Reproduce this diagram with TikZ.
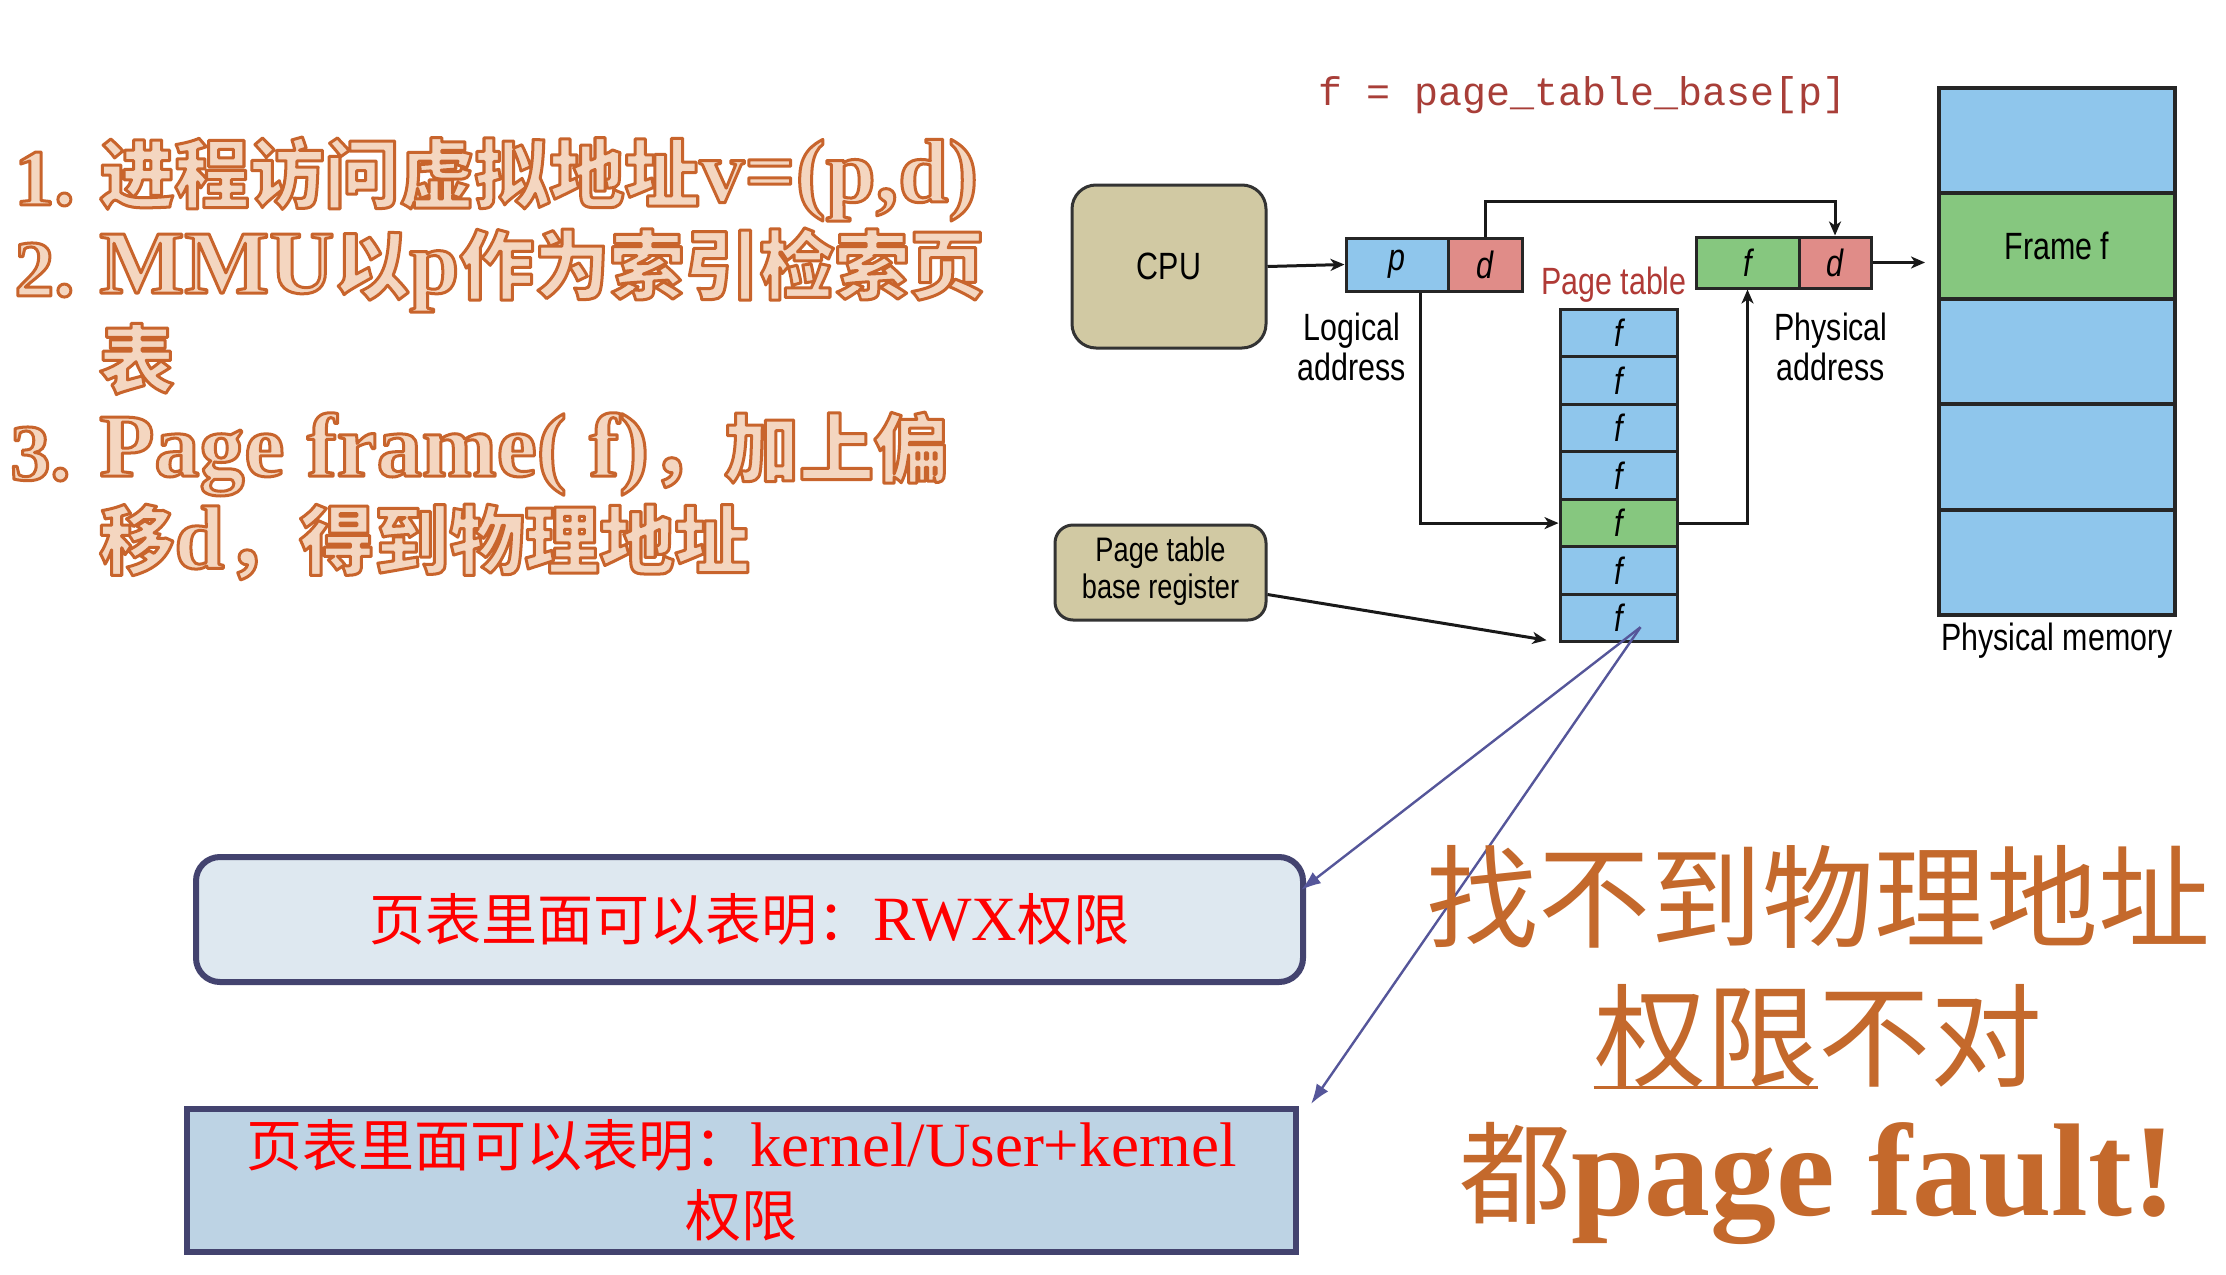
\documentclass[tikz,border=0pt]{standalone}
\usepackage{fontspec}
\usepackage{graphicx}
\usetikzlibrary{arrows.meta,calc}
\setmainfont{Liberation Serif}
\newfontfamily\cjk{Noto Sans CJK SC}
\newfontfamily\dsans{Liberation Sans}
\newfontfamily\dmono{Liberation Mono}
\definecolor{tanfill}{HTML}{D1C9A3}
\definecolor{cellblue}{HTML}{8FC6EC}
\definecolor{cellgreen}{HTML}{86C77F}
\definecolor{cellred}{HTML}{E08C88}
\definecolor{formred}{HTML}{A83E38}
\definecolor{ptred}{HTML}{B03A36}
\definecolor{orOut}{HTML}{C8642C}
\definecolor{orFill}{HTML}{F4D6C0}
\definecolor{bigor}{HTML}{C4692C}
\definecolor{navy}{HTML}{43436F}
\definecolor{arrblue}{HTML}{55569A}
\definecolor{boxafill}{HTML}{DEE8F0}
\definecolor{boxbfill}{HTML}{BDD3E4}
\newdimen\pxu \pxu=0.5pt
\newcommand\nar[1]{\scalebox{0.8}[1]{#1}}
\newcommand\latb{\bfseries\fontsize{45}{54}\selectfont}
\newcommand\cjb{\cjk\bfseries\fontsize{37.5}{48}\selectfont}
% outlined text: pale fill, orange stroke (text render mode 2)
\newcommand\outl[1]{{\color{orFill}\special{pdf:literal direct 0.784 0.392 0.173 RG 1.5 w 1 j 2 Tr}#1\special{pdf:literal direct 0 Tr}}}
\tikzset{
  tanbox/.style={draw=black!80, fill=tanfill, line width=1.5pt, inner sep=0pt,
    font=\dsans\fontsize{19}{20}\selectfont},
  cell/.style={draw=black!85, line width=1.5pt, inner sep=0pt,
    font=\dsans\itshape\fontsize{19}{20}\selectfont},
  memrow/.style={draw=black!85, line width=2pt, fill=cellblue, inner sep=0pt,
    minimum width=236*\pxu, minimum height=105.4*\pxu,
    font=\dsans\fontsize{19}{20}\selectfont},
  lbl/.style={inner sep=0pt, font=\dsans\fontsize{19}{20}\selectfont},
  blk/.style={draw=black!90, line width=1.5pt, -{Stealth[length=7pt,width=6pt,inset=2pt]}},
  bluearr/.style={draw=arrblue, line width=1.2pt, -{Latex[length=10pt,width=7pt]}},
  lt/.style={inner sep=0pt, anchor=west, font=\fontsize{40}{48}\selectfont},
  bigt/.style={inner sep=0pt, anchor=base, text=bigor, font=\fontsize{56}{60}\selectfont},
  infobox/.style={draw=navy, line width=3pt, inner sep=0pt, text=red, align=center,
    font=\fontsize{28}{35}\selectfont}
}
\begin{document}
\begin{tikzpicture}[x=0.5pt,y=-0.5pt]
\useasboundingbox (0,0) rectangle (2226,1274);
\fill[white] (0,0) rectangle (2226,1274);

% formula
\node[inner sep=0pt, text=formred, font=\dmono\fontsize{20}{24}\selectfont] (formula) at (1583,95) {f = page\_table\_base[p]};

% CPU
\node[tanbox, minimum width=194*\pxu, minimum height=163*\pxu, rounded corners=12pt] (cpu) at (1169,266.5) {\nar{CPU}};

% logical address
\node[cell, fill=cellblue, minimum width=102*\pxu, minimum height=53*\pxu] (p) at (1397,264.5) {\nar{p}};
\node[cell, fill=cellred, minimum width=74*\pxu, minimum height=53*\pxu] (d) at (1485,264.5) {\nar{d}};
\node[lbl] (la) at (1352,352) {\nar{\begin{tabular}{@{}c@{}}Logical\\address\end{tabular}}};

% physical address
\node[cell, fill=cellgreen, minimum width=103*\pxu, minimum height=51*\pxu] (pf) at (1747.5,262.5) {\nar{f}};
\node[cell, fill=cellred, minimum width=72*\pxu, minimum height=51*\pxu] (pd) at (1835,262.5) {\nar{d}};
\node[lbl] (pa) at (1831,352) {\nar{\begin{tabular}{@{}c@{}}Physical\\address\end{tabular}}};

% page table
\node[lbl, text=ptred] (ptl) at (1614,285) {\nar{Page table}};
\node[cell, fill=cellblue, minimum width=117*\pxu, minimum height=47.57*\pxu] (pt0) at (1618.5,332.8) {\nar{f}};
\node[cell, fill=cellblue, minimum width=117*\pxu, minimum height=47.57*\pxu] (pt1) at (1618.5,380.4) {\nar{f}};
\node[cell, fill=cellblue, minimum width=117*\pxu, minimum height=47.57*\pxu] (pt2) at (1618.5,427.9) {\nar{f}};
\node[cell, fill=cellblue, minimum width=117*\pxu, minimum height=47.57*\pxu] (pt3) at (1618.5,475.5) {\nar{f}};
\node[cell, fill=cellgreen, minimum width=117*\pxu, minimum height=47.57*\pxu] (pt4) at (1618.5,523.1) {\nar{f}};
\node[cell, fill=cellblue, minimum width=117*\pxu, minimum height=47.57*\pxu] (pt5) at (1618.5,570.6) {\nar{f}};
\node[cell, fill=cellblue, minimum width=117*\pxu, minimum height=47.57*\pxu] (pt6) at (1618.5,618.2) {\nar{f}};

% physical memory
\node[memrow] (mem0) at (2057,140.7) {};
\node[memrow, fill=cellgreen] (mem1) at (2057,246.1) {\nar{Frame f}};
\node[memrow] (mem2) at (2057,351.5) {};
\node[memrow] (mem3) at (2057,456.9) {};
\node[memrow] (mem4) at (2057,562.3) {};
\node[lbl] (pm) at (2057,641) {\nar{Physical memory}};

% PTBR
\node[tanbox, minimum width=211*\pxu, minimum height=95*\pxu, rounded corners=9pt,
  font=\dsans\fontsize{17}{18.5}\selectfont] (ptbr) at (1160.5,572.5)
  {\nar{\begin{tabular}{@{}c@{}}Page table\\base register\end{tabular}}};

% black connectors
\draw[blk] (cpu.east) -- (p.west);
\draw[blk] (d.north) -- ++(0,-35) -| (pd.north);
\draw[blk] ([xshift=11.5pt]p.south) |- (pt4.west);
\draw[blk] (pt4.east) -| (pf.south);
\draw[blk, shorten >=6pt] (pd.east) -- (pd.east -| mem1.west);
\draw[blk] ([yshift=-11pt]ptbr.east) -- ([xshift=-6pt,yshift=-11pt]pt6.west);

% info boxes
\node[infobox, fill=boxafill, rounded corners=12pt, minimum width=1107*\pxu, minimum height=125*\pxu] (boxa) at (749.5,919.5)
  {{\cjk 页表里面可以表明：}{\fontsize{31.5}{35}\selectfont RWX}{\cjk 权限}};
\node[infobox, fill=boxbfill, minimum width=1109*\pxu, minimum height=143*\pxu] (boxb) at (741.5,1180.5)
  {{\cjk 页表里面可以表明：}{\fontsize{31.5}{35}\selectfont kernel/User+kernel}\\{\cjk 权限}};

% blue arrows
\coordinate (src) at ($(pt6.center)+(22,9)$);
\coordinate (ta) at ($(boxa.north east)+(-5,36)$);
\coordinate (tb) at ($(boxb.north east)+(12,-2)$);
\draw[bluearr] (src) -- (ta);
\draw[bluearr] (src) -- (tb);

% left text
\node[lt] (n1) at (14,179) {\outl{\bfseries 1.}};
\node[lt] (c1) at (99,179) {\outl{{\cjb 进程访问虚拟地址}{\latb v=(p,d)}}};
\node[lt] (n2) at (14,270) {\outl{\bfseries 2.}};
\node[lt] (c2) at (99,270) {\outl{{\latb MMU}{\cjb 以}{\latb p}{\cjb 作为索引检索页}}};
\node[lt] (c3) at (99,359) {\outl{\cjb 表}};
\node[lt] (n3) at (10,454) {\outl{\bfseries 3.}};
\node[lt] (c4) at (99,454) {\outl{{\latb Page frame( f)}{\cjb ，加上偏}}};
\node[lt] (c5) at (99,542) {\outl{{\cjb 移}{\latb d}{\cjb ，得到物理地址}}};

% right big text
\node[bigt] (r1) at (1818,939) {\cjk 找不到物理地址};
\node[bigt] (r2) at (1818,1078) {\cjk 权限不对};
\draw[bigor, line width=1.5pt] ([yshift=-4.5pt]r2.base west) -- ([yshift=-4.5pt]r2.base);
\node[bigt] (r3) at (1818,1215) {{\cjk 都}{\bfseries\fontsize{66}{70}\selectfont page fault!}};
\end{tikzpicture}
\end{document}
